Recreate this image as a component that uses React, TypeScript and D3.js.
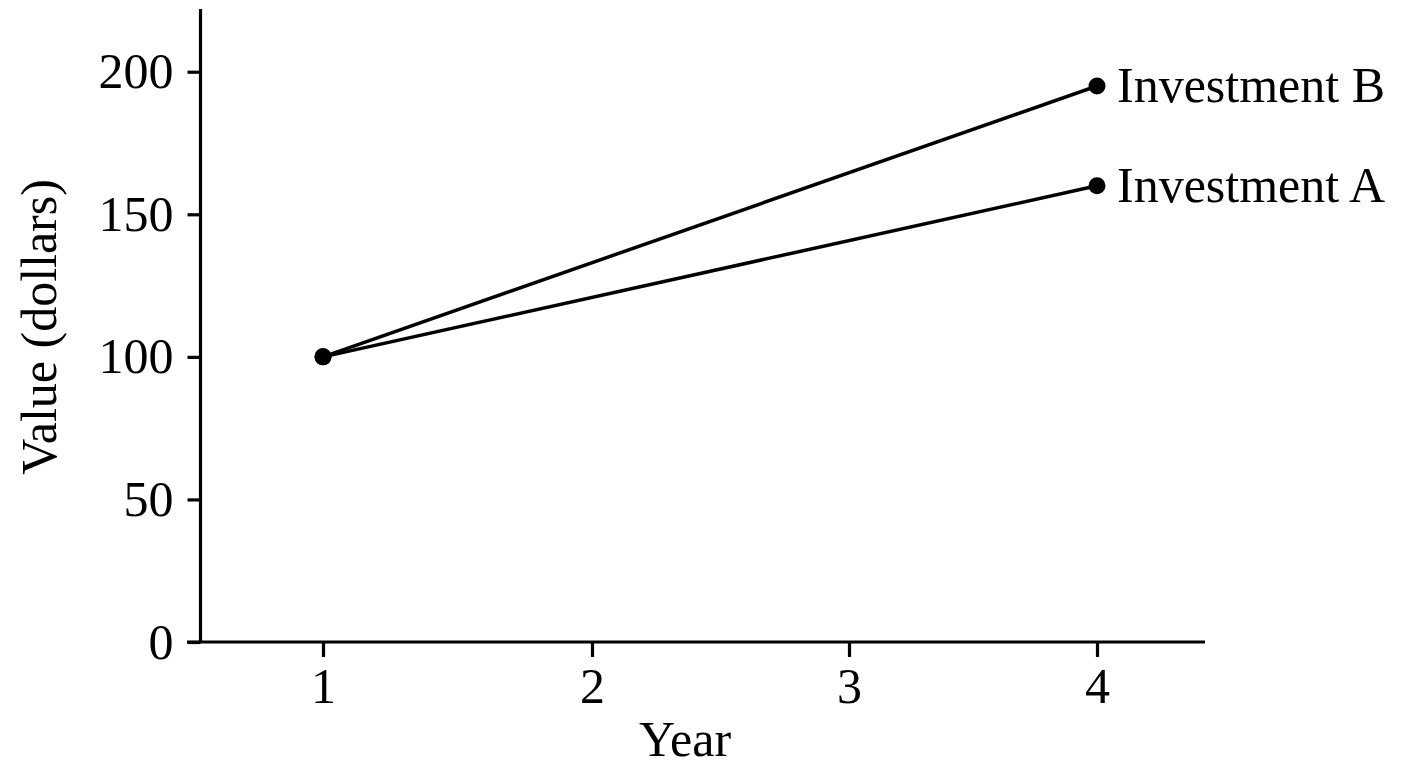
import { useEffect, useRef } from 'react';
import * as d3 from 'd3';

const years = [1, 2, 3, 4];
const yTicks = [0, 50, 100, 150, 200];

const seriesNames = ['Investment A', 'Investment B'];
const seriesYears = [1, 4];
const investmentA = [100, 160];
const investmentB = [100, 195];

const WIDTH = 1408;
const HEIGHT = 768;
const FONT = '"Liberation Serif", "Times New Roman", serif';

export default function App() {
  const svgRef = useRef<SVGSVGElement>(null);

  useEffect(() => {
    if (!svgRef.current) return;
    const svg = d3.select(svgRef.current);
    svg.selectAll('*').remove();

    const axisLeftX = 200.5;
    const axisBottomY = 642;

    // year ticks in the original are not evenly spaced
    const x = d3.scaleLinear().domain(years).range([323, 592, 849, 1097]);
    const y = d3.scaleLinear().domain([0, 222]).range([axisBottomY, 9]);

    const g = svg.append('g');

    // axes
    const xAxis = g
      .append('g')
      .attr('transform', `translate(0,${axisBottomY})`)
      .call(d3.axisBottom(x).tickValues(years).tickFormat(d3.format('d')).tickSize(15).tickPadding(10));
    xAxis.select('.domain').attr('d', `M187,0H1205`);

    const yAxis = g
      .append('g')
      .attr('transform', `translate(${axisLeftX},0)`)
      .call(d3.axisLeft(y).tickValues(yTicks).tickSize(13).tickPadding(14));
    yAxis.select('.domain').attr('d', `M0,${y(222)}V${axisBottomY}`);

    [xAxis, yAxis].forEach((ax) => {
      ax.selectAll('path, line').attr('stroke', '#000').attr('stroke-width', 3.2);
      ax.selectAll('text').attr('font-family', FONT).attr('font-size', 50).attr('fill', '#000');
    });

    // lines
    const series = [investmentA, investmentB];
    const line = d3
      .line<number>()
      .x((_, i) => x(seriesYears[i]))
      .y((d) => y(d));

    series.forEach((values, si) => {
      g.append('path')
        .attr('d', line(values))
        .attr('fill', 'none')
        .attr('stroke', '#000')
        .attr('stroke-width', 3.5);
      g.selectAll(`.pt-${si}`)
        .data(values)
        .join('circle')
        .attr('cx', (_, i) => x(seriesYears[i]))
        .attr('cy', (d) => y(d))
        .attr('r', 8.5)
        .attr('fill', '#000');
      const last = values.length - 1;
      g.append('text')
        .attr('x', x(seriesYears[last]) + 20)
        .attr('y', y(values[last]))
        .attr('dy', '0.32em')
        .attr('font-family', FONT)
        .attr('font-size', 50)
        .attr('fill', '#000')
        .text(seriesNames[si]);
    });

    // axis titles
    g.append('text')
      .attr('x', 685)
      .attr('y', 756)
      .attr('text-anchor', 'middle')
      .attr('font-family', FONT)
      .attr('font-size', 50)
      .text('Year');

    g.append('text')
      .attr('transform', `translate(56,327) rotate(-90)`)
      .attr('text-anchor', 'middle')
      .attr('font-family', FONT)
      .attr('font-size', 50)
      .text('Value (dollars)');
  }, []);

  return (
    <svg
      ref={svgRef}
      width={WIDTH}
      height={HEIGHT}
      style={{ position: 'absolute', left: 0, top: 0, background: '#fff' }}
    />
  );
}
